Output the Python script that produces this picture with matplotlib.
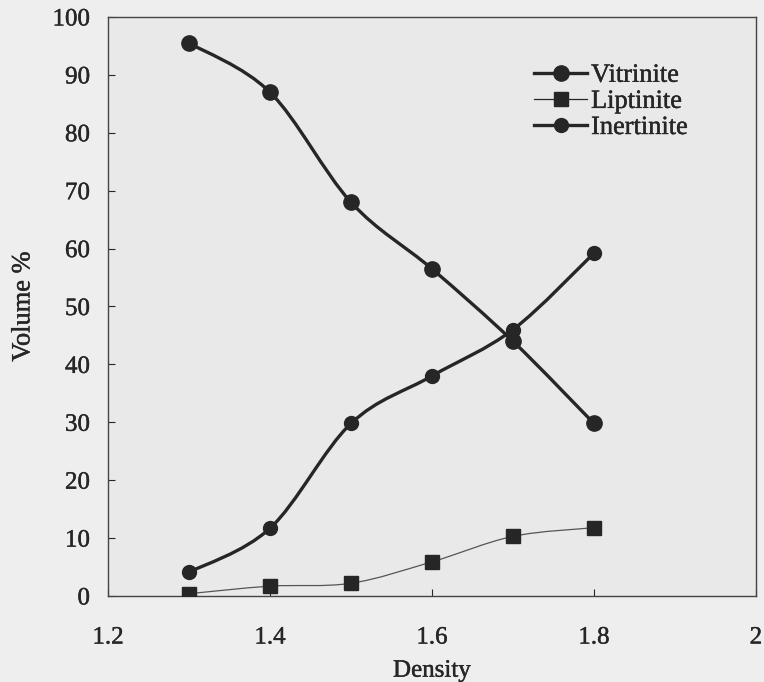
import numpy as np
import matplotlib
matplotlib.use("Agg")
import matplotlib.pyplot as plt
import matplotlib.patheffects as pe
from matplotlib.path import Path
from matplotlib.patches import PathPatch

# values
density = [1.3, 1.4, 1.5, 1.6, 1.7, 1.8]
vitrinite = [95.5, 87.0, 68.0, 56.5, 44.0, 29.8]
liptinite = [0.4, 1.7, 2.2, 5.9, 10.3, 11.8]
inertinite = [4.1, 11.7, 29.8, 38.0, 46.0, 59.2]

x_ticks = [1.2, 1.4, 1.6, 1.8, 2.0]
x_tick_labels = ['1.2', '1.4', '1.6', '1.8', '2']
y_ticks = list(range(0, 101, 10))

plt.rcParams['font.family'] = ['Liberation Serif', 'DejaVu Serif']
ink = '#262626'
# the scan thickens the type a little
heavy = [pe.withStroke(linewidth=0.3, foreground=ink)]


def smooth_path(xs, ys):
    # catmull-rom through the points, written as cubic bezier segments
    pts = np.column_stack([xs, ys]).astype(float)
    verts = [pts[0]]
    codes = [Path.MOVETO]
    n = len(pts)
    for i in range(n - 1):
        p0 = pts[i - 1] if i > 0 else pts[i]
        p1 = pts[i]
        p2 = pts[i + 1]
        p3 = pts[i + 2] if i + 2 < n else pts[i + 1]
        c1 = p1 + (p2 - p0) / 6.0
        c2 = p2 - (p3 - p1) / 6.0
        verts += [c1, c2, p2]
        codes += [Path.CURVE4] * 3
    return Path(verts, codes)


fig = plt.figure(figsize=(7.64, 6.82), dpi=100, facecolor='#eeeeee')
ax = fig.add_axes([0.1414, 0.1261, 0.848, 0.849])
ax.set_facecolor('#e9e9e9')

for ys, lw, col in [(vitrinite, 2.4, ink), (inertinite, 2.4, ink), (liptinite, 0.9, '#555555')]:
    ax.add_patch(PathPatch(smooth_path(density, ys), fill=False, lw=lw, color=col, zorder=2))

ax.plot(density, vitrinite, 'o', color=ink, ms=11, zorder=3)
ax.plot(density, liptinite, 's', color=ink, ms=10, zorder=3)
ax.plot(density, inertinite, 'o', color=ink, ms=10, zorder=3)

# legend handles
h1, = ax.plot([], [], '-o', color=ink, lw=2.4, ms=11, label='Vitrinite')
h2, = ax.plot([], [], '-s', color=ink, lw=0.9, ms=10, label='Liptinite')
h3, = ax.plot([], [], '-o', color=ink, lw=2.4, ms=10, label='Inertinite')
leg = ax.legend(handles=[h1, h2, h3], loc='upper left', bbox_to_anchor=(0.658, 0.92),
                frameon=False, fontsize=19, handlelength=2.0, handletextpad=0.15,
                labelspacing=0.1, borderaxespad=0, borderpad=0)
for t in leg.get_texts():
    t.set_color(ink)
    t.set_path_effects(heavy)

ax.set_xlim(1.2, 2.0)
ax.set_ylim(0, 100)
ax.set_xticks(x_ticks)
ax.set_xticklabels(x_tick_labels)
ax.set_yticks(y_ticks)
ax.tick_params(direction='in', length=5, width=0.8, colors=ink, labelsize=18)
ax.tick_params(axis='y', pad=13)
ax.tick_params(axis='x', pad=22)
for lab in ax.get_xticklabels() + ax.get_yticklabels():
    lab.set_path_effects(heavy)
for s in ax.spines.values():
    s.set_color('#444444')
    s.set_linewidth(1.0)

ax.set_xlabel('Density', fontsize=18, color=ink, labelpad=8, path_effects=heavy)
ax.set_ylabel('Volume %', fontsize=19, color=ink, labelpad=13, path_effects=heavy)

fig.savefig('out.png', dpi=100, facecolor=fig.get_facecolor())
